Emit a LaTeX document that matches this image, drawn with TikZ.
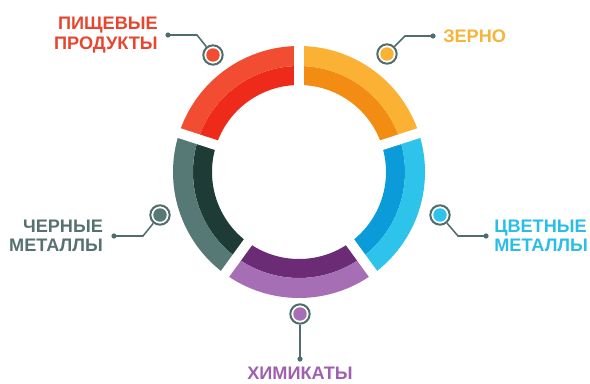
\documentclass[tikz,border=0pt]{standalone}
\usepackage{fontspec}
\setmainfont{Liberation Sans}
\usetikzlibrary{positioning}

\definecolor{redlight}{HTML}{F24D33}
\definecolor{reddark}{HTML}{EE2A1B}
\definecolor{redtxt}{HTML}{E8452F}
\definecolor{orangelight}{HTML}{FBB134}
\definecolor{orangedark}{HTML}{F28C12}
\definecolor{orangetxt}{HTML}{F5B43A}
\definecolor{bluelight}{HTML}{2DC3EB}
\definecolor{bluedark}{HTML}{0B9BD8}
\definecolor{bluetxt}{HTML}{2ABDE6}
\definecolor{purplelight}{HTML}{A66FB5}
\definecolor{purpledark}{HTML}{6B2C75}
\definecolor{purpletxt}{HTML}{A060B0}
\definecolor{teallight}{HTML}{567976}
\definecolor{tealdark}{HTML}{1E3B36}
\definecolor{tealtxt}{HTML}{56716F}
\definecolor{linegray}{HTML}{4F6D6B}

\begin{document}
\begin{tikzpicture}[
  x=0.025cm, y=0.025cm,
  lbl/.style={font=\fontsize{12.9}{13.8}\selectfont\bfseries, inner sep=0pt},
  marker/.style={circle, draw=linegray, line width=0.05cm, fill=white, minimum size=0.485cm, inner sep=0pt,
    path picture={\fill[#1] (path picture bounding box.center) circle[radius=0.168cm];}},
  conn/.style={draw=linegray, line width=0.038cm},
  enddot/.style={fill=linegray}
]
  \useasboundingbox (0,0) rectangle (590,383);
  \coordinate (C) at (299,211);

  % ring: five sectors, dark inner band and light outer band
  \foreach \a/\dk/\lt in {90/reddark/redlight, 162/tealdark/teallight, 234/purpledark/purplelight,
                          306/bluedark/bluelight, 18/orangedark/orangelight}{
    \pgfmathsetmacro\b{\a+72}
    \fill[\dk] (C) ++(\a:87) arc[start angle=\a, end angle=\b, radius=87]
      -- ++(\b:19) arc[start angle=\b, end angle=\a, radius=106] -- cycle;
    \fill[\lt] (C) ++(\a:106) arc[start angle=\a, end angle=\b, radius=106]
      -- ++(\b:20) arc[start angle=\b, end angle=\a, radius=126] -- cycle;
  }
  % white cuts between the sectors
  \foreach \a in {90, 162, 234, 306, 18}
    \draw[white, line width=0.25cm] (C) ++(\a:80) -- ++(\a:52);

  % food
  \node[marker=redlight] (mkfood) at (213,328) {};
  \coordinate (elfood) at (197,348);
  \coordinate (dfood) at (168,348);
  \draw[conn] (mkfood) -- (elfood) -- (dfood);
  \fill[enddot] (dfood) circle[radius=0.065cm];
  \node[lbl, text=redtxt, align=right, left=0.25cm of dfood] (food) {ПИЩЕВЫЕ\\ПРОДУКТЫ};

  % grain
  \node[marker=orangelight] (mkgrain) at (387,329) {};
  \coordinate (elgrain) at (405,347);
  \coordinate (dgrain) at (433,347);
  \draw[conn] (mkgrain) -- (elgrain) -- (dgrain);
  \fill[enddot] (dgrain) circle[radius=0.065cm];
  \node[lbl, text=orangetxt, right=0.25cm of dgrain] (grain) {ЗЕРНО};

  % non-ferrous metals
  \node[marker=bluelight] (mknonfe) at (440,168) {};
  \coordinate (elnonfe) at (458,147);
  \coordinate (dnonfe) at (486,147);
  \draw[conn] (mknonfe) -- (elnonfe) -- (dnonfe);
  \fill[enddot] (dnonfe) circle[radius=0.065cm];
  \node[lbl, text=bluetxt, align=left, right=0.2cm of dnonfe] (nonfe) {ЦВЕТНЫЕ\\МЕТАЛЛЫ};

  % ferrous metals
  \node[marker=teallight] (mkfe) at (160,168) {};
  \coordinate (elfe) at (143,147);
  \coordinate (dfe) at (114,147);
  \draw[conn] (mkfe) -- (elfe) -- (dfe);
  \fill[enddot] (dfe) circle[radius=0.065cm];
  \node[lbl, text=tealtxt, align=right, left=0.27cm of dfe] (fe) {ЧЕРНЫЕ\\МЕТАЛЛЫ};

  % chemicals
  \node[marker=purplelight] (mkchem) at (300,69) {};
  \coordinate (dchem) at (300,24);
  \draw[conn] (mkchem) -- (dchem);
  \fill[enddot] (dchem) circle[radius=0.065cm];
  \node[lbl, text=purpletxt, below=0.2cm of dchem] (chem) {ХИМИКАТЫ};
\end{tikzpicture}
\end{document}
